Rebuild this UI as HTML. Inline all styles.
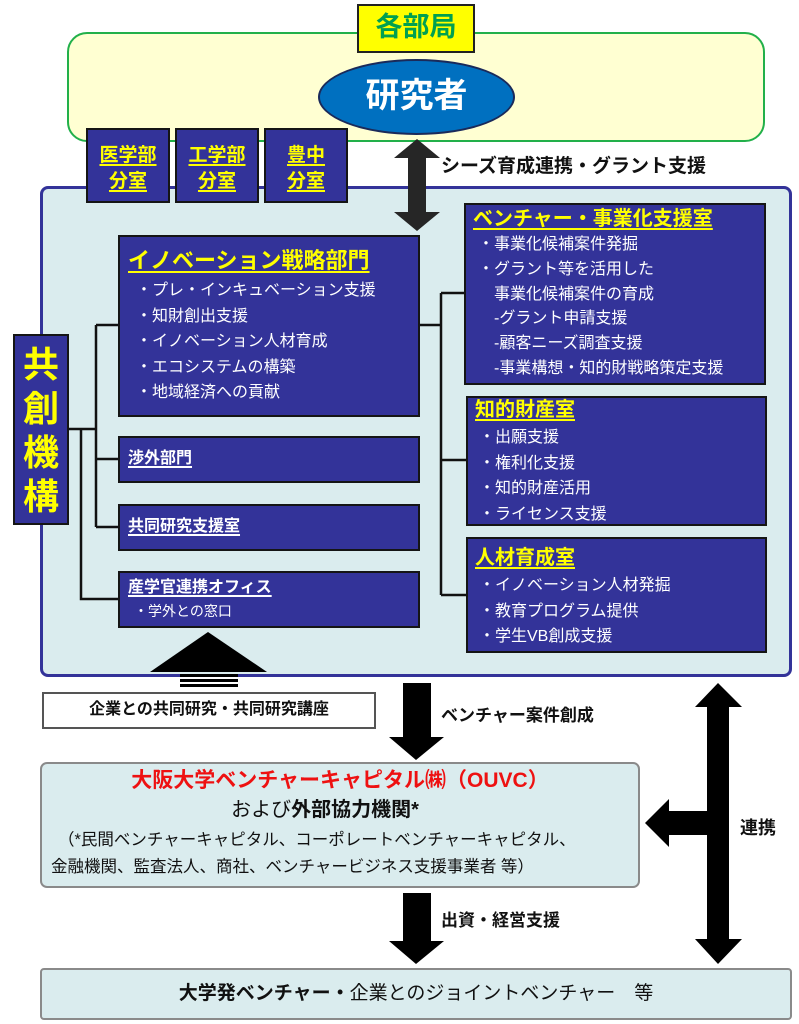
<!DOCTYPE html>
<html><head><meta charset="utf-8"><style>
*{margin:0;padding:0;box-sizing:border-box}
body{width:799px;height:1024px;background:#fff;position:relative;overflow:hidden;font-family:"Liberation Sans","Noto Sans CJK JP",sans-serif}
.a{position:absolute}
.nb{position:absolute;background:#333399;border:2.5px solid #151515;color:#fff}
.t{position:absolute;white-space:nowrap;line-height:1}
.yt{color:#ffff00;font-weight:bold;text-decoration:underline;text-decoration-thickness:2px;text-underline-offset:3px}
.wt{color:#fff;font-weight:bold;text-decoration:underline;text-decoration-thickness:2px;text-underline-offset:3px}
.li{color:#fff;font-size:16px;line-height:25.5px}
</style></head><body>
<!-- top green -->
<div class="a" style="left:67px;top:32px;width:698px;height:110px;background:#ffffd2;border:2.5px solid #22b04a;border-radius:20px"></div>
<div class="a" style="left:357px;top:4px;width:118px;height:49px;background:#ffff00;border:2px solid #222;"></div>
<div class="t" style="left:357px;top:14px;width:118px;text-align:center;font-size:27px;font-weight:bold;color:#00a050">各部局</div>
<div class="a" style="left:318px;top:59px;width:197px;height:76px;border-radius:50%;background:#0070c0;border:2px solid #1a2a5a"></div>
<div class="t" style="left:318px;top:79px;width:197px;text-align:center;font-size:34px;font-weight:bold;color:#fff">研究者</div>
<!-- main box -->
<div class="a" style="left:40px;top:186px;width:752px;height:491px;background:#daecee;border:3px solid #333399;border-radius:8px"></div>
<!-- small boxes -->
<div class="nb" style="left:86px;top:128px;width:84px;height:75px"></div>
<div class="nb" style="left:175px;top:128px;width:84px;height:75px"></div>
<div class="nb" style="left:264px;top:128px;width:84px;height:75px"></div>
<div class="t yt" style="left:86px;top:143px;width:84px;text-align:center;font-size:19px;line-height:26px">医学部<br>分室</div>
<div class="t yt" style="left:175px;top:143px;width:84px;text-align:center;font-size:19px;line-height:26px">工学部<br>分室</div>
<div class="t yt" style="left:264px;top:143px;width:84px;text-align:center;font-size:19px;line-height:26px">豊中<br>分室</div>

<svg class="a" style="left:0;top:0" width="799" height="1024">
<g stroke="#111" stroke-width="2.5" fill="none">
<path d="M69 429H97M96 325V527M96 325H118M96 459H118M96 527H118M81 429V599H118"/>
<path d="M418 325H442M441 293V595M441 293H464M441 460H466M441 595H466"/>
</g>
<!-- seeds double arrow -->
<polygon fill="#262626" points="417,139 440,158 426,158 426,212 440,212 417,231 394,212 408,212 408,158 394,158"/>
<!-- up arrow -->
<polygon fill="#000" points="208,632 267,672 150,672"/>
<rect x="180" y="674" width="58" height="3" fill="#000"/>
<rect x="180" y="679" width="58" height="3" fill="#000"/>
<rect x="180" y="684" width="58" height="3" fill="#000"/>
<!-- venture down -->
<polygon fill="#000" points="403,683 431,683 431,737 444,737 416,760 389,737 403,737"/>
<!-- funding down -->
<polygon fill="#000" points="403,893 431,893 431,941 444,941 416,964 389,941 403,941"/>
<!-- renkei double -->
<polygon fill="#000" points="718,683 742,707 729,707 729,939 742,939 718,964 695,939 707,939 707,835 669,835 669,847 645,823 669,799 669,811 707,811 707,707 695,707"/>
</svg>

<div class="t" style="left:441px;top:157px;font-size:19px;font-weight:bold;color:#111">シーズ育成連携・グラント支援</div>

<!-- 共創機構 -->
<div class="nb" style="left:13px;top:334px;width:56px;height:191px"></div>
<div class="t" style="left:13px;top:343px;width:56px;text-align:center;font-size:36px;line-height:44px;font-weight:bold;color:#ffff00">共<br>創<br>機<br>構</div>

<!-- left boxes -->
<div class="nb" style="left:118px;top:235px;width:302px;height:182px"></div>
<div class="t yt" style="left:128px;top:250px;font-size:22px">イノベーション戦略部門</div>
<div class="t li" style="left:136px;top:278px">・プレ・インキュベーション支援<br>・知財創出支援<br>・イノベーション人材育成<br>・エコシステムの構築<br>・地域経済への貢献</div>
<div class="nb" style="left:118px;top:436px;width:302px;height:47px"></div>
<div class="t wt" style="left:128px;top:451px;font-size:16px">渉外部門</div>
<div class="nb" style="left:118px;top:504px;width:302px;height:47px"></div>
<div class="t wt" style="left:128px;top:519px;font-size:16px">共同研究支援室</div>
<div class="nb" style="left:118px;top:571px;width:302px;height:57px"></div>
<div class="t wt" style="left:128px;top:580px;font-size:16px">産学官連携オフィス</div>
<div class="t" style="left:134px;top:604px;font-size:14px;color:#fff">・学外との窓口</div>

<!-- right boxes -->
<div class="nb" style="left:464px;top:203px;width:302px;height:182px"></div>
<div class="t yt" style="left:473px;top:209px;font-size:20px">ベンチャー・事業化支援室</div>
<div class="t li" style="left:478px;top:233px;line-height:24.8px">・事業化候補案件発掘<br>・グラント等を活用した<br>　事業化候補案件の育成<br>　-グラント申請支援<br>　-顧客ニーズ調査支援<br>　-事業構想・知的財戦略策定支援</div>
<div class="nb" style="left:466px;top:396px;width:301px;height:130px"></div>
<div class="t yt" style="left:475px;top:400px;font-size:20px">知的財産室</div>
<div class="t li" style="left:479px;top:425px">・出願支援<br>・権利化支援<br>・知的財産活用<br>・ライセンス支援</div>
<div class="nb" style="left:466px;top:537px;width:301px;height:116px"></div>
<div class="t yt" style="left:475px;top:548px;font-size:20px">人材育成室</div>
<div class="t li" style="left:479px;top:573px">・イノベーション人材発掘<br>・教育プログラム提供<br>・学生VB創成支援</div>

<!-- lower -->
<div class="a" style="left:42px;top:692px;width:334px;height:37px;background:#fff;border:2px solid #555"></div>
<div class="t" style="left:42px;top:702px;width:334px;text-align:center;font-size:16px;font-weight:bold;color:#111">企業との共同研究・共同研究講座</div>
<div class="t" style="left:441px;top:707px;font-size:17px;font-weight:bold;color:#111">ベンチャー案件創成</div>

<div class="a" style="left:40px;top:762px;width:600px;height:126px;background:#daecee;border:2.5px solid #8a8a8a;border-radius:7px"></div>
<div class="t" style="left:40px;top:770px;width:600px;text-align:center;font-size:21px;font-weight:bold;color:#ee1111">大阪大学ベンチャーキャピタル㈱（OUVC）</div>
<div class="t" style="left:40px;top:800px;width:570px;text-align:center;font-size:20px;color:#111">および<b>外部協力機関*</b></div>
<div class="t" style="left:58px;top:832px;font-size:16.5px;color:#111">（*民間ベンチャーキャピタル、コーポレートベンチャーキャピタル、</div>
<div class="t" style="left:51px;top:859px;font-size:16.5px;color:#111">金融機関、監査法人、商社、ベンチャービジネス支援事業者 等）</div>

<div class="t" style="left:740px;top:819px;font-size:18px;font-weight:bold;color:#111">連携</div>
<div class="t" style="left:441px;top:912px;font-size:17px;font-weight:bold;color:#111">出資・経営支援</div>

<div class="a" style="left:40px;top:968px;width:752px;height:52px;background:#daecee;border:2.5px solid #8a8a8a;border-radius:4px"></div>
<div class="t" style="left:40px;top:984px;width:752px;text-align:center;font-size:19px;color:#111"><b>大学発ベンチャー・</b>企業とのジョイントベンチャー　等</div>
</body></html>
